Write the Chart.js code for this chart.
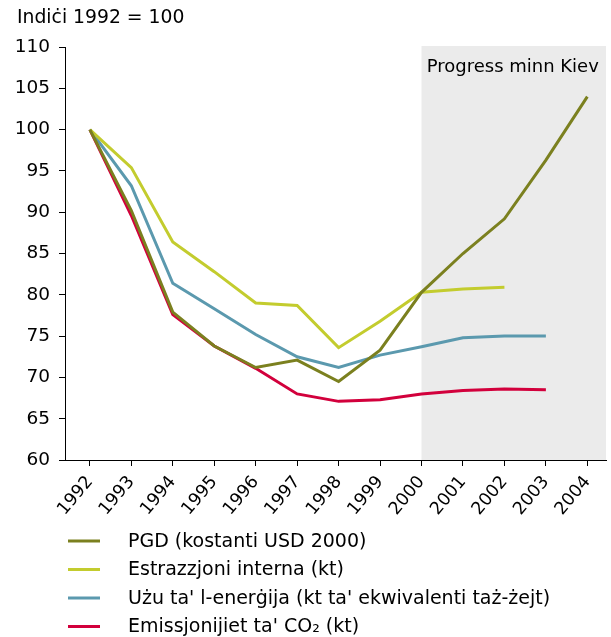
<!DOCTYPE html>
<html>
<head>
<meta charset="utf-8">
<script src="https://cdn.jsdelivr.net/npm/chart.js@4/dist/chart.umd.min.js"></script>
<style>
  html, body { margin: 0; padding: 0; background: #fff; }
  #wrap { width: 611px; height: 637px; }
</style>
</head>
<body>
<div id="wrap"><canvas id="indexChart" width="611" height="637"></canvas></div>
<script>
const years = [1992, 1993, 1994, 1995, 1996, 1997, 1998, 1999, 2000, 2001, 2002, 2003, 2004];
const yTicks = [60, 65, 70, 75, 80, 85, 90, 95, 100, 105, 110];

const pgd        = [100, 90.2, 77.9, 73.8, 71.2, 72.1, 69.5, 73.3, 80.3, 85.0, 89.2, 96.3, 104.0];
const extraction = [100, 95.4, 86.4, 82.8, 79.0, 78.7, 73.6, 76.8, 80.3, 80.7, 80.9];
const energy     = [100, 93.2, 81.4, 78.3, 75.2, 72.5, 71.2, 72.7, 73.7, 74.8, 75.0, 75.0];
const co2        = [100, 89.6, 77.6, 73.8, 71.1, 68.0, 67.1, 67.3, 68.0, 68.4, 68.6, 68.5];

const shadeFrom = 2000;
const FONT = 'DejaVu Sans';

const toPoints = arr => arr.map((v, i) => ({ x: years[i], y: v }));

// Grey "Progress minn Kiev" box and the title above the axis
const backdrop = {
    id: 'backdrop',
    beforeDatasetsDraw(chart) {
        const { ctx, chartArea, scales } = chart;
        const x0 = scales.x.getPixelForValue(shadeFrom);
        ctx.save();
        ctx.fillStyle = '#ebebeb';
        ctx.fillRect(x0, chartArea.top - 1, chartArea.right - x0, chartArea.bottom - chartArea.top + 1);
        ctx.fillStyle = '#000';
        ctx.textBaseline = 'middle';
        ctx.font = '18px "' + FONT + '"';
        ctx.textAlign = 'center';
        ctx.fillText('Progress minn Kiev', (x0 + chartArea.right) / 2 - 1, chartArea.top + 20);
        ctx.font = '18.8px "' + FONT + '"';
        ctx.textAlign = 'left';
        ctx.fillText('Indiċi 1992 = 100', 17, 18);
        ctx.restore();
    }
};

// Legend stacked under the axis
const sideLegend = {
    id: 'sideLegend',
    afterDraw(chart) {
        const { ctx } = chart;
        ctx.save();
        ctx.font = '19px "' + FONT + '"';
        ctx.textBaseline = 'middle';
        chart.data.datasets.forEach((ds, i) => {
            const y = 541 + i * 28.5;
            ctx.strokeStyle = ds.borderColor;
            ctx.lineWidth = 3;
            ctx.beginPath();
            ctx.moveTo(68, y);
            ctx.lineTo(100, y);
            ctx.stroke();
            ctx.fillStyle = '#000';
            ctx.fillText(ds.label, 128, y + 1);
        });
        ctx.restore();
    }
};

new Chart(document.getElementById('indexChart'), {
    type: 'line',
    data: {
        datasets: [
            { label: 'PGD (kostanti USD 2000)', data: toPoints(pgd), borderColor: '#7b801f' },
            { label: 'Estrazzjoni interna (kt)', data: toPoints(extraction), borderColor: '#c3cc2e' },
            { label: "Użu ta' l-enerġija (kt ta' ekwivalenti taż-żejt)", data: toPoints(energy), borderColor: '#5b99ae' },
            { label: "Emissjonijiet ta' CO₂ (kt)", data: toPoints(co2), borderColor: '#d2003c' },
        ],
    },
    options: {
        responsive: false,
        animation: false,
        layout: { padding: { top: 47, right: 5, left: 0, bottom: 0 } },
        plugins: {
            legend: { display: false },
            tooltip: { enabled: false },
        },
        elements: {
            line: { borderWidth: 3, tension: 0, fill: false },
            point: { radius: 0 },
        },
        scales: {
            x: {
                type: 'linear',
                min: 1991.4,
                max: 2004.45,
                afterBuildTicks: scale => { scale.ticks = years.map(v => ({ value: v })); },
                afterFit: scale => { scale.height = 177; },
                grid: { drawOnChartArea: false, tickLength: 6, color: '#000' },
                border: { color: '#000', width: 1 },
                ticks: {
                    autoSkip: false,
                    minRotation: 50,
                    maxRotation: 50,
                    padding: 6,
                    color: '#000',
                    font: { family: FONT, size: 17.5 },
                    callback: v => String(v),
                },
            },
            y: {
                min: 60,
                max: 110,
                afterBuildTicks: scale => { scale.ticks = yTicks.map(v => ({ value: v })); },
                afterFit: scale => { scale.width = 65; },
                grid: { drawOnChartArea: false, tickLength: 6, color: '#000' },
                border: { color: '#000', width: 1 },
                ticks: {
                    padding: 9,
                    color: '#000',
                    font: { family: FONT, size: 18.5 },
                },
            },
        },
    },
    plugins: [backdrop, sideLegend],
});
</script>
</body>
</html>
